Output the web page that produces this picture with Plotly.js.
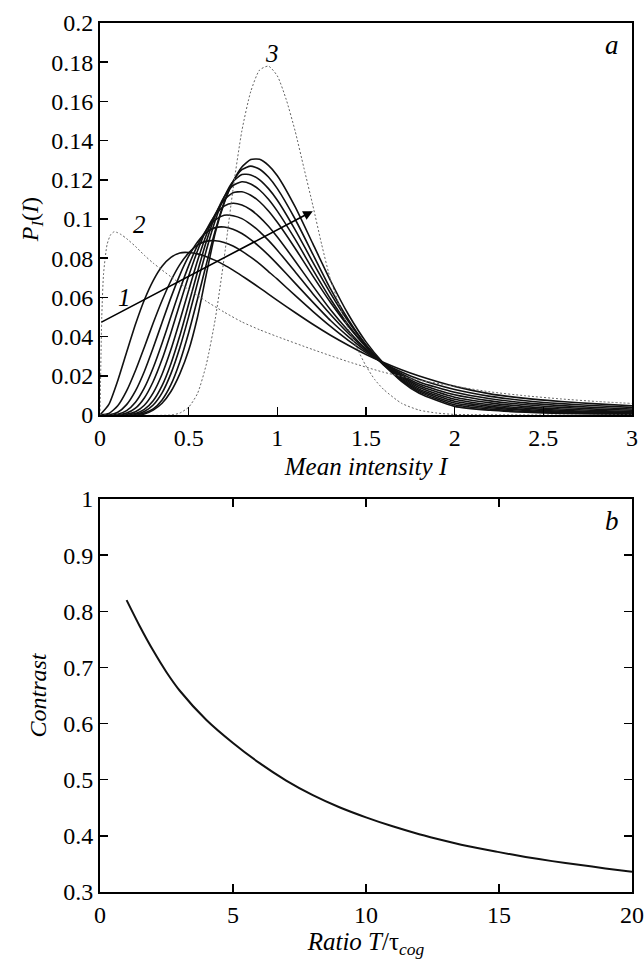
<!DOCTYPE html>
<html>
<head>
<meta charset="utf-8">
<script src="https://cdn.plot.ly/plotly-3.0.1.min.js"></script>
<style>html,body{margin:0;padding:0;background:#fff}#chart{width:644px;height:965px}</style>
</head>
<body>
<div id="chart"></div>
<script>
// ---- Panel a: solid family on a shared grid of mean intensity I ----
const I_GRID = [0,0.05,0.1,0.15,0.2,0.25,0.3,0.35,0.4,0.45,0.5,0.55,0.6,0.65,0.7,0.75,0.8,0.85,0.9,0.95,1.0,1.1,1.2,1.3,1.4,1.5,1.6,1.7,1.8,2.0,2.2,2.4,2.6,2.8,3.0];
const c1 = [0,0.0054,0.0175,0.0320,0.0463,0.0587,0.0686,0.0759,0.0804,0.0827,0.0829,0.0822,0.0808,0.0789,0.0766,0.0739,0.0710,0.0680,0.0649,0.0617,0.0585,0.0523,0.0463,0.0407,0.0356,0.0309,0.0268,0.0231,0.0199,0.0146,0.0108,0.0085,0.0069,0.0057,0.0047];
const c2 = [0,0.0008,0.0047,0.0123,0.0227,0.0346,0.0469,0.0584,0.0685,0.0767,0.0827,0.0867,0.0887,0.0889,0.0880,0.0862,0.0836,0.0805,0.0771,0.0732,0.0693,0.0610,0.0529,0.0452,0.0381,0.0318,0.0264,0.0219,0.0182,0.0130,0.0095,0.0073,0.0058,0.0047,0.0039];
const c3 = [0,0.0001,0.0014,0.0053,0.0123,0.0222,0.0343,0.0472,0.0599,0.0714,0.0810,0.0883,0.0932,0.0956,0.0959,0.0948,0.0926,0.0895,0.0858,0.0816,0.0770,0.0673,0.0576,0.0482,0.0400,0.0326,0.0263,0.0211,0.0169,0.0116,0.0083,0.0062,0.0048,0.0038,0.0031];
const c4 = [0,0,0.0004,0.0022,0.0065,0.0138,0.0241,0.0366,0.0502,0.0638,0.0762,0.0866,0.0944,0.0995,0.1019,0.1017,0.1002,0.0973,0.0936,0.0891,0.0841,0.0731,0.0619,0.0513,0.0417,0.0333,0.0263,0.0204,0.0158,0.0103,0.0072,0.0052,0.0039,0.0030,0.0024];
const c5 = [0,0,0.0001,0.0010,0.0035,0.0087,0.0171,0.0284,0.0420,0.0566,0.0709,0.0838,0.0944,0.1020,0.1066,0.1080,0.1071,0.1047,0.1010,0.0963,0.0908,0.0786,0.0659,0.0537,0.0430,0.0336,0.0259,0.0198,0.0149,0.0091,0.0062,0.0043,0.0031,0.0023,0.0018];
const c6 = [0,0,0,0.0004,0.0017,0.0050,0.0113,0.0208,0.0334,0.0481,0.0636,0.0787,0.0920,0.1025,0.1097,0.1134,0.1139,0.1121,0.1088,0.1041,0.0983,0.0851,0.0710,0.0574,0.0453,0.0349,0.0263,0.0193,0.0140,0.0080,0.0052,0.0035,0.0024,0.0018,0.0014];
const c7 = [0,0,0,0.0001,0.0008,0.0029,0.0073,0.0150,0.0262,0.0404,0.0566,0.0731,0.0886,0.1017,0.1113,0.1171,0.1190,0.1179,0.1148,0.1101,0.1040,0.0897,0.0742,0.0592,0.0459,0.0347,0.0256,0.0187,0.0132,0.0070,0.0044,0.0028,0.0019,0.0014,0.0011];
const c8 = [0,0,0,0,0.0004,0.0018,0.0051,0.0113,0.0211,0.0343,0.0502,0.0674,0.0842,0.0992,0.1111,0.1191,0.1227,0.1225,0.1200,0.1155,0.1096,0.0946,0.0780,0.0621,0.0478,0.0357,0.0260,0.0182,0.0125,0.0061,0.0037,0.0023,0.0015,0.0011,0.0008];
const c9 = [0,0,0,0,0.0002,0.0010,0.0031,0.0077,0.0155,0.0271,0.0420,0.0592,0.0771,0.0941,0.1085,0.1191,0.1252,0.1270,0.1254,0.1214,0.1155,0.1000,0.0821,0.0643,0.0487,0.0357,0.0254,0.0177,0.0118,0.0052,0.0030,0.0018,0.0011,0.0008,0.0006];
const c10 = [0,0,0,0,0,0.0005,0.0025,0.0060,0.0120,0.0210,0.0330,0.0500,0.0720,0.0930,0.1080,0.1190,0.1265,0.1303,0.1305,0.1274,0.1221,0.1063,0.0874,0.0685,0.0514,0.0373,0.0262,0.0172,0.0111,0.0044,0.0024,0.0014,0.0008,0.0005,0.0004];

// dotted curve 2
const d2_I = [0,0.01,0.02,0.04,0.06,0.08,0.1,0.12,0.15,0.2,0.25,0.3,0.4,0.5,0.6,0.7,0.8,0.9,1.0,1.2,1.4,1.6,1.8,2.0,2.2,2.4,2.6,2.8,3.0];
const d2_P = [0,0.05,0.072,0.087,0.092,0.0935,0.093,0.092,0.0900,0.086,0.0815,0.0775,0.0705,0.064,0.058,0.0525,0.0475,0.0435,0.040,0.0334,0.0272,0.0218,0.0178,0.0147,0.0118,0.0098,0.0082,0.0069,0.0059];
// dotted curve 3
const d3_I = [0,0.4,0.45,0.5,0.55,0.6,0.65,0.7,0.75,0.8,0.85,0.9,0.95,1.0,1.05,1.1,1.15,1.2,1.25,1.3,1.35,1.4,1.45,1.5,1.55,1.6,1.7,1.8,1.9,2.0,2.5,3.0];
const d3_P = [0,0,0.001,0.004,0.011,0.026,0.049,0.080,0.115,0.145,0.165,0.176,0.178,0.173,0.161,0.145,0.126,0.107,0.087,0.069,0.056,0.044,0.034,0.025,0.018,0.013,0.006,0.0025,0.001,0.0003,0,0];

// ---- Panel b: contrast vs ratio ----
const ratio = [1,1.5,2,2.5,3,4,5,6,7,8,9,10,11,12,13,14,15,16,17,18,19,20];
const contrast = [0.82,0.773,0.730,0.6915,0.6585,0.6065,0.5655,0.5295,0.4985,0.4725,0.451,0.433,0.417,0.403,0.391,0.380,0.371,0.3625,0.355,0.3485,0.342,0.336];

const xTicksA = [0,0.5,1,1.5,2,2.5,3];
const xTickTextA = ['0','0.5','1','1.5','2','2.5','3'];
const yTicksA = [0,0.02,0.04,0.06,0.08,0.1,0.12,0.14,0.16,0.18,0.2];
const yTickTextA = ['0','0.02','0.04','0.06','0.08','0.1','0.12','0.14','0.16','0.18','0.2'];
const xTicksB = [0,5,10,15,20];
const xTickTextB = ['0','5','10','15','20'];
const yTicksB = [0.3,0.4,0.5,0.6,0.7,0.8,0.9,1];
const yTickTextB = ['0.3','0.4','0.5','0.6','0.7','0.8','0.9','1'];

const FONT = 'Liberation Serif';
function tf(s){ return {family:FONT, size:s || 24, color:'#000'}; }
const family = [c1,c2,c3,c4,c5,c6,c7,c8,c9,c10];
const traces = [];
family.forEach(function(ys){
  traces.push({x:I_GRID, y:ys, type:'scatter', mode:'lines', xaxis:'x', yaxis:'y',
    line:{color:'#111', width:1.6, shape:'spline', smoothing:0.6}, hoverinfo:'skip'});
});
traces.push({x:d2_I, y:d2_P, type:'scatter', mode:'lines', xaxis:'x', yaxis:'y',
  line:{color:'#666', width:1, dash:'2px,2px', shape:'spline', smoothing:0.6}});
traces.push({x:d3_I, y:d3_P, type:'scatter', mode:'lines', xaxis:'x', yaxis:'y',
  line:{color:'#666', width:1, dash:'2px,2px', shape:'spline', smoothing:0.6}});
traces.push({x:ratio, y:contrast, type:'scatter', mode:'lines', xaxis:'x2', yaxis:'y2',
  line:{color:'#111', width:2, shape:'spline', smoothing:0.8}});

function ax(extra){
  return Object.assign({showgrid:false, zeroline:false, showline:true, linecolor:'#000', linewidth:2,
    ticks:'inside', ticklen:8, tickwidth:1.5, tickcolor:'#000', tickmode:'array',
    ticklabeloverflow:'allow', tickfont:tf(24)}, extra);
}

const layout = {
  width:644, height:965, showlegend:false,
  paper_bgcolor:'#fff', plot_bgcolor:'#fff',
  margin:{l:100, r:12, t:23, b:73},
  font:{family:FONT, size:24, color:'#000'},
  xaxis:ax({domain:[0,1], anchor:'y', range:[0,3], tickvals:xTicksA, ticktext:xTickTextA, mirror:true,
    title:{text:'<i>Mean intensity I</i>', font:tf(25), standoff:8}}),
  yaxis:ax({domain:[0.5489,1], anchor:'x', range:[0,0.2], tickvals:yTicksA, ticktext:yTickTextA, mirror:true,
    title:{text:'<i>P</i><sub><i>I</i></sub>(<i>I</i>)', font:tf(24), standoff:6}}),
  xaxis2:ax({domain:[0,1], anchor:'y2', range:[0,20], tickvals:xTicksB, ticktext:xTickTextB, mirror:'ticks',
    title:{text:'<i>Ratio T</i>/τ<sub><i>cog</i></sub>', font:tf(25), standoff:4}}),
  yaxis2:ax({domain:[0,0.4522], anchor:'x2', range:[0.3,1], tickvals:yTicksB, ticktext:yTickTextB, mirror:'ticks',
    title:{text:'<i>Contrast</i>', font:tf(24), standoff:10}}),
  annotations:[
    {x:1.2, y:0.104, ax:0, ay:0.047, xref:'x', yref:'y', axref:'x', ayref:'y', text:'', showarrow:true,
     arrowhead:2, arrowsize:1.2, arrowwidth:1.6, arrowcolor:'#000'},
    {x:0.14, y:0.06, xref:'x', yref:'y', text:'<i>1</i>', showarrow:false, font:tf(25)},
    {x:0.22, y:0.097, xref:'x', yref:'y', text:'<i>2</i>', showarrow:false, font:tf(25)},
    {x:0.97, y:0.1845, xref:'x', yref:'y', text:'<i>3</i>', showarrow:false, font:tf(25)},
    {x:2.89, y:0.189, xref:'x', yref:'y', text:'<i>a</i>', showarrow:false, font:tf(27)},
    {x:19.25, y:0.96, xref:'x2', yref:'y2', text:'<i>b</i>', showarrow:false, font:tf(27)}
  ]
};

Plotly.newPlot('chart', traces, layout, {staticPlot:true, displayModeBar:false});
</script>
</body>
</html>
